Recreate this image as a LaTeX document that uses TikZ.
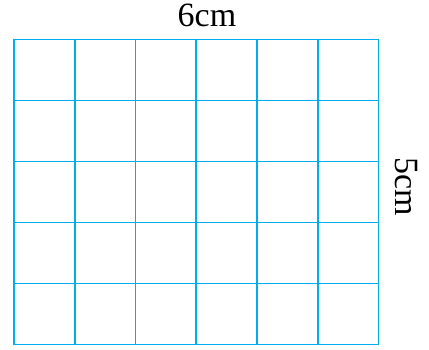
\documentclass[tikz,border=0pt]{standalone}
\usepackage{fontspec}
\setmainfont{Liberation Serif}
\definecolor{gridblue}{RGB}{0,174,239}
\begin{document}
\begin{tikzpicture}[x=1pt,y=-1pt,
  gridline/.style={draw=gridblue,line width=1.8pt},
  lbl/.style={inner sep=0pt,font=\fontsize{34}{37}\selectfont}]
\useasboundingbox (0,0) rectangle (429,350);
\foreach \i in {0,...,6}{
  \draw[gridline] ({14+\i*60.75},39.5) -- ({14+\i*60.75},344.5);
}
\foreach \j in {0,...,5}{
  \draw[gridline] (14,{39.5+\j*61}) -- (378.5,{39.5+\j*61});
}
\node[lbl,anchor=base] (top) at (207,27) {6cm};
\node[lbl,rotate=-90] (side) at (406,187) {5cm};
\end{tikzpicture}
\end{document}
